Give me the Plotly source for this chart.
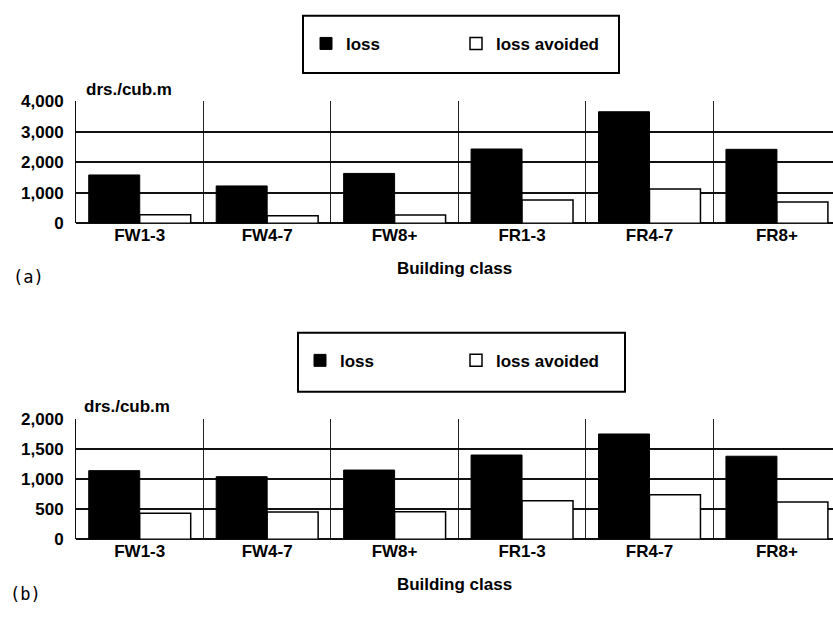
import plotly.graph_objects as go

categories = ["FW1-3", "FW4-7", "FW8+", "FR1-3", "FR4-7", "FR8+"]
loss_a = [1580, 1220, 1630, 2430, 3650, 2420]
avoided_a = [280, 240, 270, 760, 1120, 690]
loss_b = [1140, 1040, 1150, 1400, 1750, 1380]
avoided_b = [430, 450, 455, 640, 740, 620]
yticks_a = [0, 1000, 2000, 3000, 4000]
yticks_b = [0, 500, 1000, 1500, 2000]
series_names = ["loss", "loss avoided"]
unit_label = "drs./cub.m"
x_title = "Building class"

W, H = 833, 617
FONT = "Liberation Sans"
TXT = dict(family=FONT, size=17, color="black", weight="bold")


def px(x):
    return x / W


def py(y):
    return 1 - y / H


fig = go.Figure()
loss_marker = dict(color="black", line=dict(color="black", width=1))
avoid_marker = dict(color="white", line=dict(color="black", width=1.5))

fig.add_bar(x=categories, y=loss_a, name=series_names[0], marker=loss_marker,
            xaxis="x", yaxis="y", legend="legend")
fig.add_bar(x=categories, y=avoided_a, name=series_names[1], marker=avoid_marker,
            xaxis="x", yaxis="y", legend="legend")
fig.add_bar(x=categories, y=loss_b, name=series_names[0], marker=loss_marker,
            xaxis="x2", yaxis="y2", legend="legend2")
fig.add_bar(x=categories, y=avoided_b, name=series_names[1], marker=avoid_marker,
            xaxis="x2", yaxis="y2", legend="legend2")

xcommon = dict(
    type="category", range=[-0.5, 5.44], tickson="boundaries",
    showgrid=True, gridcolor="#222", gridwidth=1,
    ticks="outside", ticklen=12, tickcolor="rgba(0,0,0,0)",
    tickfont=TXT,
    showline=False, zeroline=False, fixedrange=True,
    title=dict(text=x_title, font=TXT, standoff=17),
)
ycommon = dict(
    showgrid=True, gridcolor="#111", gridwidth=2,
    zeroline=True, zerolinecolor="#111", zerolinewidth=2,
    showline=True, linecolor="#111", linewidth=1,
    ticks="outside", ticklen=8, tickcolor="rgba(0,0,0,0)",
    tickformat=",d",
    tickfont=TXT, fixedrange=True,
)

fig.update_layout(
    width=W, height=H,
    margin=dict(l=0, r=0, t=0, b=0),
    paper_bgcolor="white", plot_bgcolor="white",
    barmode="group", bargap=0.2, bargroupgap=0,
    xaxis=dict(domain=[px(76), 1], anchor="y", **xcommon),
    yaxis=dict(domain=[py(221), py(95)], anchor="x", range=[0, 4000],
               tickvals=yticks_a, **ycommon),
    xaxis2=dict(domain=[px(76), 1], anchor="y2", **xcommon),
    yaxis2=dict(domain=[py(547), py(423)], anchor="x2", range=[0, 2000],
                tickvals=yticks_b, **ycommon),
    legend=dict(orientation="h", x=px(306), y=py(36), xanchor="left", yanchor="middle",
                entrywidth=105, bgcolor="rgba(0,0,0,0)", borderwidth=0,
                font=TXT),
    legend2=dict(orientation="h", x=px(300), y=py(363), xanchor="left", yanchor="middle",
                 entrywidth=111, bgcolor="rgba(0,0,0,0)", borderwidth=0,
                 font=TXT),
    shapes=[
        dict(type="rect", xref="paper", yref="paper", x0=px(303), x1=px(619),
             y0=py(66), y1=py(7), line=dict(color="black", width=2)),
        dict(type="rect", xref="paper", yref="paper", x0=px(298), x1=px(625),
             y0=py(395), y1=py(334), line=dict(color="black", width=2)),
    ],
    annotations=[
        dict(text=unit_label, xref="paper", yref="paper", x=px(84), y=py(83),
             xanchor="left", yanchor="middle", showarrow=False, font=TXT),
        dict(text=unit_label, xref="paper", yref="paper", x=px(82), y=py(410),
             xanchor="left", yanchor="middle", showarrow=False, font=TXT),
        dict(text="(a)", xref="paper", yref="paper", x=px(28), y=py(276),
             xanchor="center", yanchor="middle", showarrow=False,
             font=dict(family="DejaVu Sans Mono", size=17, color="black")),
        dict(text="(b)", xref="paper", yref="paper", x=px(25), y=py(604),
             xanchor="center", yanchor="middle", showarrow=False,
             font=dict(family="DejaVu Sans Mono", size=17, color="black")),
    ],
)

fig.write_html(
    "out.html",
    config={"displayModeBar": False},
    post_script="document.body.style.margin='0px';document.body.style.padding='0px';",
)
